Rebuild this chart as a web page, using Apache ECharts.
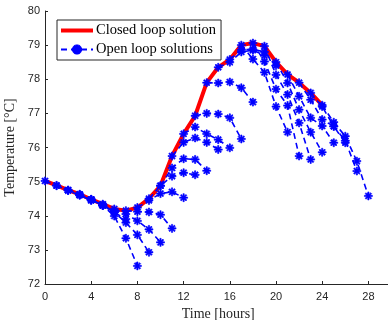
<!DOCTYPE html>
<html>
<head>
<meta charset="utf-8">
<script src="https://cdn.jsdelivr.net/npm/echarts@6/dist/echarts.min.js"></script>
<style>
  html, body { margin: 0; padding: 0; background: #fff; }
  #chart { width: 388px; height: 320px; }
</style>
</head>
<body>
<div id="chart"></div>
<script>
// closed loop temperature, one value per hour (0..24)
const hours = [0, 1, 2, 3, 4, 5, 6, 7, 8, 9, 10, 11, 12, 13, 14, 15, 16, 17, 18, 19, 20, 21, 22, 23, 24];
const closedLoop = [75.02, 74.89, 74.75, 74.63, 74.48, 74.34, 74.2, 74.15, 74.24, 74.5, 74.88, 75.75, 76.4,
  76.93, 77.9, 78.35, 78.58, 79.0, 79.06, 78.97, 78.5, 78.14, 77.9, 77.6, 77.24];

// open loop predictions, row k starts at hour k and covers 4 hours
const openLoops = [
  [75.02, 74.88, 74.74, 74.6, 74.45],
  [74.89, 74.75, 74.61, 74.46, 74.3],
  [74.75, 74.62, 74.47, 74.32, 74.12],
  [74.63, 74.48, 74.3, 74.1, 73.9],
  [74.48, 74.3, 73.99, 73.34, 72.53],
  [74.34, 74.1, 73.8, 73.44, 72.93],
  [74.2, 74.05, 73.85, 73.6, 73.22],
  [74.15, 74.12, 74.11, 74.03, 73.63],
  [74.24, 74.45, 74.65, 74.7, 74.53],
  [74.5, 74.88, 75.16, 75.26, 75.2],
  [74.88, 75.4, 75.67, 75.65, 75.32],
  [75.75, 76.15, 76.28, 76.15, 75.94],
  [76.4, 76.6, 76.4, 76.23, 75.99],
  [76.93, 77.0, 76.98, 76.87, 76.25],
  [77.9, 77.89, 77.92, 77.75, 77.33],
  [78.35, 78.5, 78.8, 78.85, 78.7],
  [78.58, 78.86, 78.88, 78.8, 78.4],
  [79.0, 78.59, 78.2, 77.2, 76.45],
  [79.06, 78.52, 77.71, 77.23, 75.75],
  [78.97, 78.13, 77.55, 76.72, 75.65],
  [78.5, 77.89, 77.11, 76.45, 75.86],
  [78.14, 77.5, 76.87, 76.63, 76.14],
  [77.9, 77.4, 76.82, 76.62, 76.14],
  [77.6, 77.2, 76.62, 76.2, 75.31],
  [77.24, 76.74, 76.33, 75.6, 74.58]
];

const xTicks = [0, 4, 8, 12, 16, 20, 24, 28];
const yTicks = [72, 73, 74, 75, 76, 77, 78, 79, 80];

const serif = '"Liberation Serif", "DejaVu Serif", serif';
const sans = '"Liberation Sans", Arial, sans-serif';

// matlab style '*' marker
const asterisk = 'path://M4.2,0L5.8,0L5.8,10L4.2,10Z M0,4.2L10,4.2L10,5.8L0,5.8Z M0.9,2.1L2.1,0.9L9.1,7.9L7.9,9.1Z M7.9,0.9L9.1,2.1L2.1,9.1L0.9,7.9Z';
// thin red bar for the legend; the tiny specks at top/bottom only stretch the box
const flatBar = 'path://M0,0L0.01,0L0,0.01Z M0,3L32,3L32,7L0,7Z M0,10L0.01,10L0,9.99Z';

const chart = echarts.init(document.getElementById('chart'));

const series = [{
  name: 'Closed loop solution',
  type: 'line',
  data: hours.map((h, i) => [h, closedLoop[i]]),
  symbol: 'none',
  lineStyle: { color: '#ff0000', width: 4 },
  itemStyle: { color: '#ff0000' },
  z: 2
}];

openLoops.forEach((run, k) => {
  series.push({
    name: 'Open loop solutions',
    type: 'line',
    data: run.map((v, j) => [k + j, v]),
    symbol: asterisk,
    symbolSize: 8,
    lineStyle: { color: '#0000ff', width: 1.6, type: [6, 4] },
    itemStyle: { color: '#0000ff', borderColor: '#0000ff', borderWidth: 0.6 },
    z: 3
  });
});

const option = {
  animation: false,
  backgroundColor: '#fff',
  grid: { left: 45, right: -3.5, top: 11, bottom: 36, outerBoundsMode: 'none', containLabel: false },
  legend: {
    data: [
      { name: 'Closed loop solution', icon: flatBar },
      { name: 'Open loop solutions' }
    ],
    orient: 'vertical',
    left: 57,
    top: 20,
    itemWidth: 32,
    itemHeight: 10,
    itemGap: 4,
    padding: [3, 5, 3, 3],
    borderColor: '#262626',
    borderWidth: 1,
    borderRadius: 0,
    backgroundColor: '#fff',
    textStyle: { fontFamily: serif, fontSize: 14.5, color: '#000', padding: [0, 0, 0, -2] }
  },
  xAxis: {
    type: 'value',
    min: 0,
    max: 30,
    interval: 4,
    name: 'Time [hours]',
    nameLocation: 'middle',
    nameGap: 20,
    nameTextStyle: { fontFamily: serif, fontSize: 14, color: '#262626' },
    axisLine: { onZero: false, lineStyle: { color: '#262626', width: 1 } },
    axisTick: { inside: true, length: 3, lineStyle: { color: '#262626' } },
    axisLabel: {
      fontFamily: sans, fontSize: 11, color: '#262626', margin: 7,
      formatter: v => xTicks.includes(v) ? String(v) : ''
    },
    splitLine: { show: false }
  },
  yAxis: {
    type: 'value',
    min: 72,
    max: 80,
    interval: 1,
    name: 'Temperature [°C]',
    nameLocation: 'middle',
    nameGap: 24,
    nameTextStyle: { fontFamily: serif, fontSize: 14, color: '#262626' },
    axisLine: { lineStyle: { color: '#262626', width: 1 } },
    axisTick: { inside: true, length: 3, lineStyle: { color: '#262626' } },
    axisLabel: {
      fontFamily: sans, fontSize: 11, color: '#262626', margin: 5,
      formatter: v => yTicks.includes(v) ? String(v) : ''
    },
    splitLine: { show: false }
  },
  series: series
};

chart.setOption(option);
</script>
</body>
</html>
